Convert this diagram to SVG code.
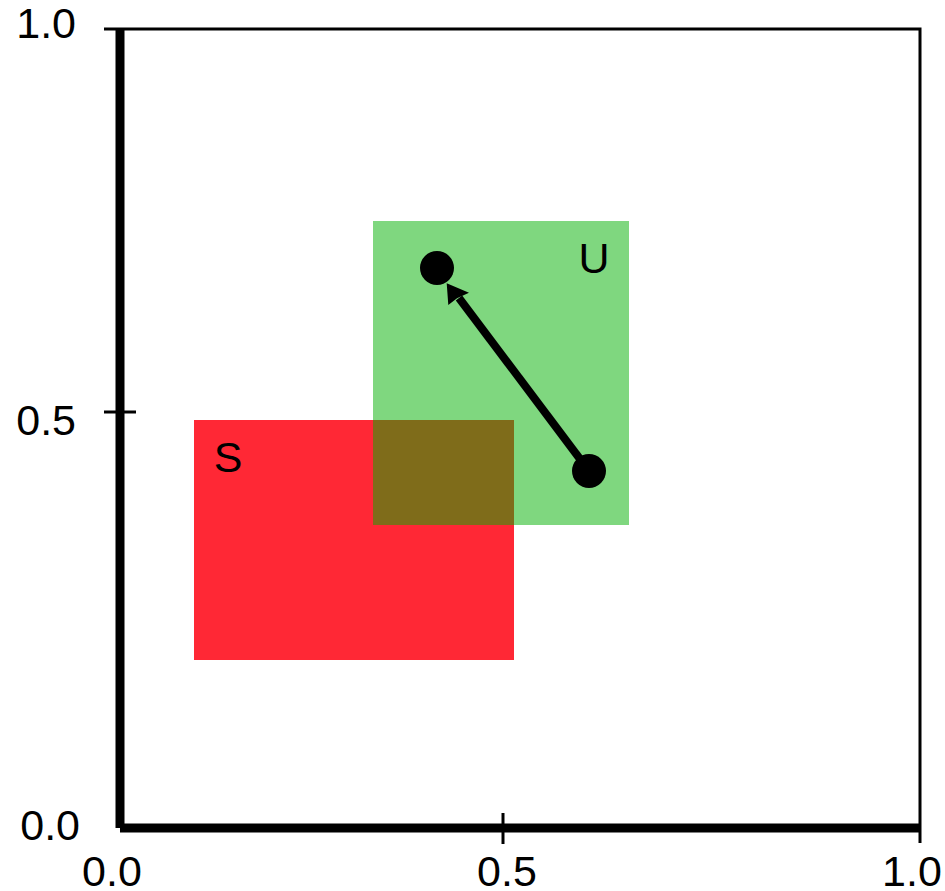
<svg xmlns="http://www.w3.org/2000/svg" width="945" height="891" viewBox="0 0 945 891">
<style>
.lbl{font-family:"Liberation Sans",Arial,Helvetica,sans-serif;font-size:43px;fill:#000}
.thin{stroke:#000;stroke-width:3;fill:none}
.thick{stroke:#000;stroke-width:9;fill:none;stroke-linecap:butt}
</style>
<rect width="945" height="891" fill="#fff"/>
<g id="axes">
<path class="thin" d="M104,29 H920 V843"/>
<path class="thin" d="M104,412 H136"/>
<path class="thin" d="M503,813 V844"/>
<path class="thick" d="M120,29 V828"/>
<path class="thick" d="M120,828 H920"/>
<text class="lbl" x="76" y="38" text-anchor="end">1.0</text>
<text class="lbl" x="76" y="435" text-anchor="end">0.5</text>
<text class="lbl" x="80" y="840" text-anchor="end">0.0</text>
<text class="lbl" x="112" y="886" text-anchor="middle">0.0</text>
<text class="lbl" x="507" y="886" text-anchor="middle">0.5</text>
<text class="lbl" x="912" y="886" text-anchor="middle">1.0</text>
</g>
<g id="S">
<rect x="194" y="420" width="320" height="240" fill="#ff2835"/>
<text class="lbl" x="228" y="472" text-anchor="middle">S</text>
</g>
<g id="U">
<rect x="373" y="221" width="256" height="304" fill="rgb(0,176,0)" fill-opacity="0.5"/>
<text class="lbl" x="594" y="273" text-anchor="middle">U</text>
</g>
<g id="p1"><circle cx="437" cy="268" r="17" fill="#000"/></g>
<g id="p2"><circle cx="589" cy="471" r="17" fill="#000"/></g>
<g id="connectors">
<line x1="589" y1="471" x2="459" y2="298" stroke="#000" stroke-width="8"/>
<polygon points="446.7,283.3 469,292.7 457,298.3 448.3,305" fill="#000"/>
</g>
</svg>
